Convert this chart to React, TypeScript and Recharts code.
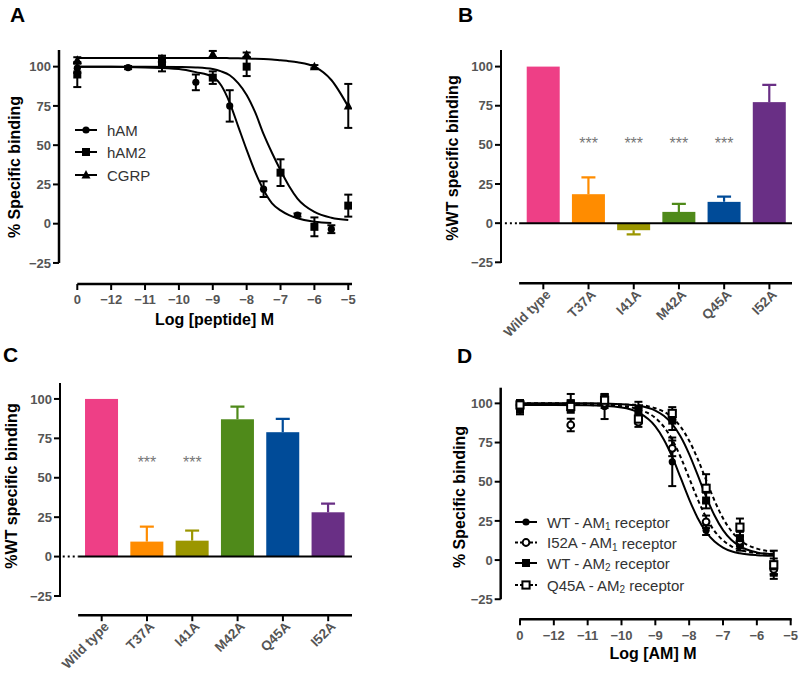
import {
  ComposedChart,
  Line,
  Scatter,
  ErrorBar,
  Bar,
  XAxis,
  YAxis,
  ReferenceLine,
  ReferenceDot,
  Customized,
} from "recharts";

const FONT = "'Liberation Sans', Arial, Helvetica, sans-serif";
const GRAY = "#555";

// log axis: the "0" (no ligand) point is drawn at -13
const logTicks = [-13, -12, -11, -10, -9, -8, -7, -6, -5];
const pctTicks = [-25, 0, 25, 50, 75, 100];

// ---------- A: peptide competition ----------
const aSeries = ["hAM", "hAM2", "CGRP"];
const aFitX = [-13, -12, -11, -10, -9.5, -9, -8.75, -8.5, -8.25, -8, -7.75, -7.5, -7.25, -7, -6.75, -6.5, -6, -5.5, -5];
const hamFit = [100, 100, 99.5, 98.5, 96.5, 93.5, 88, 77, 62, 47, 33, 21.5, 13, 8.5, 5.5, 3.5, 1.2, 0.5, null];
const ham2Fit = [100, 100, 100, 99.8, 99.5, 98.5, 97, 94.5, 89.5, 82, 71, 57, 45, 34, 24, 16, 7.5, 3.8, 2.4];
const cgrpFit = [105.5, 105.5, 105.5, 105.5, 105.5, 105.5, 105.5, 105.4, 105.3, 105.2, 105, 104.8, 104.5, 104, 103.5, 102.8, 100, 91.5, 74.5];

const hamX = [-13, -11.5, -10.5, -9.5, -8.5, -7.5, -6.5, -5.5];
const hamY = [99, 99.4, 101, 90, 75, 22, 5.5, -3.5];
const hamErr = [3, 1, 4, 5, 10, 5, 1, 2.5];
const ham2X = [-13, -10.5, -9, -8, -7, -6, -5];
const ham2Y = [95, 103, 93, 100, 32.5, -2, 11.5];
const ham2Err = [8, 3, 4, 6, 8.5, 6, 7];
const cgrpX = [-13, -10.5, -9, -8, -6, -5];
const cgrpY = [104, 105, 108, 107.5, 100, 75];
const cgrpErr = [2, 2, 2, 1.5, 1, 14];

// ---------- B / C: mutant bars ----------
const mutants = ["Wild type", "T37A", "I41A", "M42A", "Q45A", "I52A"];
const mutantColors = ["#EE3F86", "#FF8C00", "#9B9600", "#4F8A1A", "#004B98", "#692F85"];
const bValues = [100, 18.5, -4.5, 7.2, 13.6, 77.3];
const bErr = [0, 10.8, 2.7, 5.1, 3.4, 11];
const bStars = ["T37A", "I41A", "M42A", "Q45A"];
const cValues = [100, 9.5, 10.1, 87.1, 78.9, 28.1];
const cErr = [0, 9.5, 6.4, 8, 8.4, 5.5];
const cStars = ["T37A", "I41A"];

// ---------- D: AM receptors ----------
const dX = [-13, -11.5, -10.5, -9.5, -8.5, -7.5, -6.5, -5.5];
const wt1Y = [98, 99, 98, 94, 62.7, 19, 9, -5];
const wt1Err = [4, 3, 8, 3, 15.5, 3, 3, 4];
const i52Y = [99, 86.2, 100, 88, 71.3, 24.4, 12, -6];
const i52Err = [3, 4, 3, 3, 5, 4, 3, 4];
const wt2Y = [97, 100, 103, 96, 89, 38, 14, -4];
const wt2Err = [4, 6, 3, 5, 6, 5, 4, 5];
const q45Y = [99, 98, 102, 90, 93.6, 45.8, 21, -3];
const q45Err = [3, 3, 3, 3, 4, 9, 5.5, 9];

const dFitX = [-13, -12, -11, -10, -9.5, -9, -8.75, -8.5, -8.25, -8, -7.75, -7.5, -7.25, -7, -6.75, -6.5, -6, -5.5];
const wt1Fit = [99, 99, 98.8, 97.4, 94.2, 85.3, 77, 65.8, 52.4, 38.8, 26.9, 17.9, 11.8, 8, 5.6, 4.3, 3.1, 2.7];
const i52Fit = [99, 99, 98.9, 98.1, 96.2, 90.7, 85.1, 76.8, 65.6, 52.3, 38.9, 27.3, 18.5, 12.6, 8.8, 6.6, 4.5, 3.8];
const wt2Fit = [100, 100, 100, 99.5, 98.5, 95.4, 92.1, 86.8, 78.7, 67.6, 54.3, 40.5, 28.4, 19.1, 12.8, 8.8, 4.9, 3.6];
const q45Fit = [100, 100, 99.9, 99.2, 99, 96.9, 94.7, 90.9, 85, 76.2, 64.6, 51.1, 37.9, 26.7, 18.4, 12.8, 7.3, 5.4];

const curve = (xs: number[], ys: (number | null)[]) => xs.map((x, i) => ({ x, y: ys[i] }));
const pts = (xs: number[], ys: number[], errs: number[]) =>
  xs.map((x, i) => ({ x, y: ys[i], err: errs[i] }));

const logLabel = (v: number) => (v === -13 ? "0" : "\u2212" + Math.abs(v));
const pctLabel = (v: number) => (v < 0 ? "\u2212" + Math.abs(v) : String(v));

const tickStyle = { fill: GRAY, fontSize: 13, fontWeight: 700, fontFamily: FONT };
const titleProps = { fontSize: 16, fontWeight: 700, fontFamily: FONT, fill: "#000" };
const tickLine = { stroke: "#000", strokeWidth: 2 };

// markers
type Mk = (cx: number, cy: number) => any;
const dot: Mk = (cx, cy) => <circle cx={cx} cy={cy} r={3.6} fill="#000" />;
const square: Mk = (cx, cy) => <rect x={cx - 4} y={cy - 4} width={8} height={8} fill="#000" />;
const triangle: Mk = (cx, cy) => (
  <polygon points={`${cx},${cy - 5} ${cx + 4.5},${cy + 3.5} ${cx - 4.5},${cy + 3.5}`} fill="#000" />
);
const openDot: Mk = (cx, cy) => <circle cx={cx} cy={cy} r={3.4} fill="#fff" stroke="#000" strokeWidth={2} />;
const openSquare: Mk = (cx, cy) => (
  <rect x={cx - 3.6} y={cy - 3.6} width={7.2} height={7.2} fill="#fff" stroke="#000" strokeWidth={2} />
);

const Title = ({ x, y, children, rotate }: any) => (
  <text
    transform={`translate(${x},${y})${rotate ? " rotate(-90)" : ""}`}
    textAnchor="middle"
    dominantBaseline="central"
    {...titleProps}
  >
    {children}
  </text>
);

const Letter = ({ x, y, children }: any) => (
  <text x={x} y={y} fontSize={21} fontWeight={700} fontFamily={FONT} fill="#000">
    {children}
  </text>
);

const LegendRow = ({ x, y, mk, dashed, children }: any) => (
  <g>
    <line x1={x} x2={x + 22} y1={y} y2={y} stroke="#000" strokeWidth={2} strokeDasharray={dashed ? "3 2" : undefined} />
    {mk(x + 11, y)}
    <text x={x + 32} y={y} dominantBaseline="central" fontSize={15} fontFamily={FONT} fill="#333">
      {children}
    </text>
  </g>
);

const Sub = ({ head, sub, tail }: any) => (
  <>
    {head}
    <tspan fontSize={10} dy={4}>{sub}</tspan>
    <tspan dy={-4}>{tail}</tspan>
  </>
);

const CurvePoints = ({ data, mk }: any) => (
  <Scatter data={data} dataKey="y" shape={(p: any) => mk(p.cx, p.cy)} isAnimationActive={false}>
    <ErrorBar dataKey="err" direction="y" width={4} stroke="#000" strokeWidth={2} isAnimationActive={false} />
  </Scatter>
);

const PanelA = () => {
  const xDom = [-13.54, -4.89];
  const yDom = [-38.4, 110.6];
  return (
    <ComposedChart width={400} height={340} margin={{ top: 50, right: 48, bottom: 26, left: 0 }}>
      <XAxis
        type="number"
        dataKey="x"
        domain={xDom}
        ticks={logTicks}
        tickFormatter={logLabel}
        axisLine={false}
        tickLine={tickLine}
        tickSize={6}
        tickMargin={5}
        tick={tickStyle}
        height={30}
        allowDataOverflow
      />
      <YAxis
        type="number"
        domain={yDom}
        ticks={pctTicks}
        tickFormatter={pctLabel}
        axisLine={false}
        tickLine={tickLine}
        tickSize={6}
        tickMargin={2}
        tick={tickStyle}
        width={59}
        allowDataOverflow
      />
      <ReferenceLine segment={[{ x: xDom[0], y: -25 }, { x: xDom[0], y: yDom[1] }]} stroke="#000" strokeWidth={2.5} ifOverflow="visible" />
      <ReferenceLine segment={[{ x: -13, y: yDom[0] }, { x: xDom[1], y: yDom[0] }]} stroke="#000" strokeWidth={2.5} ifOverflow="visible" />
      <Line data={curve(aFitX, hamFit)} dataKey="y" type="monotone" dot={false} stroke="#000" strokeWidth={2} isAnimationActive={false} />
      <Line data={curve(aFitX, ham2Fit)} dataKey="y" type="monotone" dot={false} stroke="#000" strokeWidth={2} isAnimationActive={false} />
      <Line data={curve(aFitX, cgrpFit)} dataKey="y" type="monotone" dot={false} stroke="#000" strokeWidth={2} isAnimationActive={false} />
      {CurvePoints({ data: pts(hamX, hamY, hamErr), mk: dot })}
      {CurvePoints({ data: pts(ham2X, ham2Y, ham2Err), mk: square })}
      {CurvePoints({ data: pts(cgrpX, cgrpY, cgrpErr), mk: triangle })}
      <Customized
        component={
          <g>
            <Letter x={10} y={22}>A</Letter>
            <Title x={14} y={167} rotate>% Specific binding</Title>
            <Title x={214.5} y={319}>Log [peptide] M</Title>
            <LegendRow x={75} y={130} mk={dot}>{aSeries[0]}</LegendRow>
            <LegendRow x={75} y={152} mk={square}>{aSeries[1]}</LegendRow>
            <LegendRow x={75} y={175} mk={triangle}>{aSeries[2]}</LegendRow>
          </g>
        }
      />
    </ComposedChart>
  );
};

// bar + one-sided error bar in the bar's own colour
const BarWithErr = (p: any) => {
  const { x, y, width, height, payload } = p;
  const top = Math.min(y, y + height);
  const bottom = Math.max(y, y + height);
  const v = payload.value;
  const ppu = v !== 0 ? (bottom - top) / Math.abs(v) : 0;
  const cx = x + width / 2;
  const start = v >= 0 ? top : bottom;
  const end = v >= 0 ? top - payload.err * ppu : bottom + payload.err * ppu;
  return (
    <g>
      <rect x={x} y={top} width={width} height={bottom - top} fill={payload.color} />
      {payload.err > 0 && (
        <g stroke={payload.color} strokeWidth={2.2}>
          <line x1={cx} x2={cx} y1={start} y2={end} />
          <line x1={cx - 7} x2={cx + 7} y1={end} y2={end} />
        </g>
      )}
    </g>
  );
};

// the category axis hangs `drop` px below the plot frame (GraphPad offset axis)
const SlantTick = (p: any) => {
  const base = p.y + p.drop;
  const tx = p.x + 5;
  const ty = base + 9;
  return (
    <g>
      <line x1={p.x} x2={p.x} y1={base} y2={base + 6} stroke="#000" strokeWidth={2} />
      <text
        x={tx}
        y={ty}
        transform={`rotate(-45 ${tx} ${ty})`}
        textAnchor="end"
        dominantBaseline="central"
        fill={GRAY}
        fontSize={13.5}
        fontWeight={700}
        fontFamily={FONT}
      >
        {mutants[p.payload.value]}
      </text>
    </g>
  );
};

// y tick with its own tick mark, right-aligned against the spine at `spine`
const PctTick = (p: any) => (
  <g>
    <line x1={p.spine - 6} x2={p.spine} y1={p.y} y2={p.y} stroke="#000" strokeWidth={2} />
    <text x={p.spine - 8} y={p.y} dy="0.355em" textAnchor="end" {...tickStyle}>
      {pctLabel(p.payload.value)}
    </text>
  </g>
);

const BarPanel = ({ values, errs, stars, starY, letter, g }: any) => {
  const rows = mutants.map((name, i) => ({ i, name, value: values[i], err: errs[i], color: mutantColors[i] }));
  const plotBottom = g.h - g.xh;
  return (
    <div style={{ position: "relative", width: 400, height: g.h }}>
      <ComposedChart width={400} height={g.h} data={rows} margin={{ top: g.top, right: g.right, bottom: 0, left: 0 }}>
        <XAxis
          type="number"
          dataKey="i"
          domain={g.x}
          ticks={mutants.map((_, i) => i)}
          interval={0}
          axisLine={false}
          tickLine={false}
          tickSize={0}
          tickMargin={0}
          tick={<SlantTick drop={g.drop} />}
          height={g.xh}
          allowDataOverflow
        />
        <YAxis
          type="number"
          domain={g.y}
          ticks={pctTicks}
          axisLine={false}
          tickLine={false}
          tick={<PctTick spine={g.left} />}
          width={g.left}
          allowDataOverflow
        />
        <Bar dataKey="value" barSize={33} shape={BarWithErr} isAnimationActive={false} />
        <ReferenceLine segment={[{ x: g.axisStart, y: g.xLine }, { x: g.x[1], y: g.xLine }]} stroke="#000" strokeWidth={2.5} ifOverflow="visible" />
        <ReferenceLine segment={[{ x: g.axisStart, y: 0 }, { x: g.x[1], y: 0 }]} stroke="#000" strokeWidth={2} ifOverflow="visible" />
        <ReferenceLine segment={[{ x: g.dotStart, y: 0 }, { x: g.axisStart, y: 0 }]} stroke="#000" strokeWidth={2} strokeDasharray="2 3" ifOverflow="visible" />
        {stars.map((s: string) => (
          <ReferenceDot
            key={s}
            x={mutants.indexOf(s)}
            y={starY}
            ifOverflow="visible"
            shape={(p: any) => (
              <text x={p.cx} y={p.cy + 9} textAnchor="middle" fontSize={16} fontFamily={FONT} fill="#777">
                ***
              </text>
            )}
          />
        ))}
        <Customized
          component={
            <g>
              <Letter x={g.letter[0]} y={g.letter[1]}>{letter}</Letter>
              <Title x={g.title[0]} y={g.title[1]} rotate>%WT specific binding</Title>
            </g>
          }
        />
      </ComposedChart>
      {/* y axis spine: left edge of the plot frame, down to the -25 tick */}
      <div
        style={{
          position: "absolute",
          left: g.left - 1.25,
          top: g.top,
          width: 2.5,
          height: plotBottom - g.top + 1,
          background: "#000",
          zIndex: 2,
        }}
      />
    </div>
  );
};

// x domains are in bar-index units, matching the plot frame of each panel
const bGeom = {
  h: 340, top: 50, right: 8, left: 101, xh: 77.7, drop: 21,
  x: [-0.936, 5.5], axisStart: -0.535, dotStart: -0.85,
  y: [-25, 110.6], xLine: -38.4,
  letter: [58, 22], title: [52.5, 158],
};
const cGeom = {
  h: 339, top: 42.7, right: 48, left: 60, xh: 83, drop: 19.2,
  x: [-0.92, 5.525], axisStart: -0.52, dotStart: -0.86,
  y: [-25, 110.3], xLine: -37.2,
  letter: [3, 22], title: [11, 146],
};

const PanelD = () => {
  const xDom = [-13.57, -4.97];
  const yDom = [-37.8, 110];
  const lines = [
    { ys: wt1Fit, dashed: false },
    { ys: i52Fit, dashed: true },
    { ys: wt2Fit, dashed: false },
    { ys: q45Fit, dashed: true },
  ];
  return (
    <ComposedChart width={400} height={339} margin={{ top: 47.7, right: 8.3, bottom: 29.7, left: 0 }}>
      <XAxis
        type="number"
        dataKey="x"
        domain={xDom}
        ticks={logTicks}
        tickFormatter={logLabel}
        axisLine={false}
        tickLine={tickLine}
        tickSize={6}
        tickMargin={5}
        tick={tickStyle}
        height={30}
        allowDataOverflow
      />
      <YAxis
        type="number"
        domain={yDom}
        ticks={pctTicks}
        tickFormatter={pctLabel}
        axisLine={false}
        tickLine={tickLine}
        tickSize={6}
        tickMargin={2}
        tick={tickStyle}
        width={100.7}
        allowDataOverflow
      />
      <ReferenceLine segment={[{ x: xDom[0], y: -25 }, { x: xDom[0], y: yDom[1] }]} stroke="#000" strokeWidth={2.5} ifOverflow="visible" />
      <ReferenceLine segment={[{ x: -13.02, y: yDom[0] }, { x: xDom[1], y: yDom[0] }]} stroke="#000" strokeWidth={2.5} ifOverflow="visible" />
      {lines.map((l, i) => (
        <Line
          key={i}
          data={curve(dFitX, l.ys)}
          dataKey="y"
          type="monotone"
          dot={false}
          stroke="#000"
          strokeWidth={2}
          strokeDasharray={l.dashed ? "4 3" : undefined}
          isAnimationActive={false}
        />
      ))}
      {CurvePoints({ data: pts(dX, wt1Y, wt1Err), mk: dot })}
      {CurvePoints({ data: pts(dX, i52Y, i52Err), mk: openDot })}
      {CurvePoints({ data: pts(dX, wt2Y, wt2Err), mk: square })}
      {CurvePoints({ data: pts(dX, q45Y, q45Err), mk: openSquare })}
      <Customized
        component={
          <g>
            <Letter x={57} y={23}>D</Letter>
            <Title x={59} y={157} rotate>% Specific binding</Title>
            <Title x={253} y={313}>Log [AM] M</Title>
            <LegendRow x={115} y={182} mk={dot}>
              <Sub head="WT - AM" sub="1" tail=" receptor" />
            </LegendRow>
            <LegendRow x={115} y={202.5} mk={openDot} dashed>
              <Sub head="I52A - AM" sub="1" tail=" receptor" />
            </LegendRow>
            <LegendRow x={115} y={223} mk={square}>
              <Sub head="WT - AM" sub="2" tail=" receptor" />
            </LegendRow>
            <LegendRow x={115} y={245} mk={openSquare} dashed>
              <Sub head="Q45A - AM" sub="2" tail=" receptor" />
            </LegendRow>
          </g>
        }
      />
    </ComposedChart>
  );
};

export default function App() {
  return (
    <div style={{ position: "absolute", left: 0, top: 0, width: 800, height: 679, background: "#fff" }}>
      <div style={{ position: "absolute", left: 0, top: 0 }}>
        <PanelA />
      </div>
      <div style={{ position: "absolute", left: 400, top: 0 }}>
        <BarPanel values={bValues} errs={bErr} stars={bStars} starY={53} letter="B" g={bGeom} />
      </div>
      <div style={{ position: "absolute", left: 0, top: 340 }}>
        <BarPanel values={cValues} errs={cErr} stars={cStars} starY={62} letter="C" g={cGeom} />
      </div>
      <div style={{ position: "absolute", left: 400, top: 340 }}>
        <PanelD />
      </div>
    </div>
  );
}
